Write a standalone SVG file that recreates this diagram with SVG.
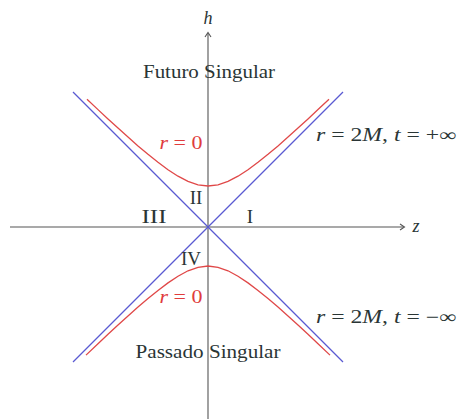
<svg xmlns="http://www.w3.org/2000/svg" width="459" height="419" viewBox="0 0 459 419">
<style>
.t{font-family:"Liberation Serif","DejaVu Serif",serif;font-size:18px;fill:#2a3535}
.g{font-size:19px}
.i{font-style:italic}
.r{fill:#e03c3c;font-size:19px}
.ax{stroke:#555;stroke-width:1.1;fill:none}
.bl{stroke:#5a5ad2;stroke-width:1.3;fill:none}
.rd{stroke:#e04848;stroke-width:1.3;fill:none}
</style>
<rect width="459" height="419" fill="#fff"/>
<g id="connectors">
<path class="ax" d="M10,227 H404"/>
<path class="ax" d="M400,224 L404.5,227 L400,230"/>
<path class="ax" d="M208,419 V33"/>
<path class="ax" d="M205,37 L208,32.5 L211,37"/>
<path class="bl" d="M73,92 L343,362"/>
<path class="bl" d="M343,92 L73,362"/>
<polyline class="rd" points="87,99.2 98,109.6 108,118.9 118,128.1 128,137.1 138,145.9 148,154.3 158,162.3 168,169.7 178,176.2 188,181.4 198,184.8 208,186 218,184.8 228,181.4 238,176.2 248,169.7 258,162.3 268,154.3 278,145.9 288,137.1 298,128.1 308,118.9 318,109.6 329,99.2"/>
<polyline class="rd" points="86,355.1 98,343.7 108,334.3 118,325.1 128,316 138,307.1 148,298.6 158,290.4 168,282.9 178,276.2 188,270.8 198,267.3 208,266 218,267.3 228,270.8 238,276.2 248,282.9 258,290.4 268,298.6 278,307.1 288,316 298,325.1 308,334.3 318,343.7 330,355.1"/>
</g>
<g id="axis-h"><text class="t i" x="208" y="24" text-anchor="middle">h</text></g>
<g id="axis-z"><text class="t i" x="416" y="232" text-anchor="middle">z</text></g>
<g id="futuro"><text class="t" x="209" y="78" text-anchor="middle" textLength="132" lengthAdjust="spacingAndGlyphs">Futuro Singular</text></g>
<g id="passado"><text class="t" x="208" y="358" text-anchor="middle" textLength="145" lengthAdjust="spacingAndGlyphs">Passado Singular</text></g>
<g id="r0-top"><text class="t r" x="181" y="149" text-anchor="middle" textLength="43" lengthAdjust="spacingAndGlyphs"><tspan class="i">r</tspan> = 0</text></g>
<g id="r0-bottom"><text class="t r" x="181" y="303" text-anchor="middle" textLength="43" lengthAdjust="spacingAndGlyphs"><tspan class="i">r</tspan> = 0</text></g>
<g id="region-II"><text class="t g" x="196" y="204" text-anchor="middle">II</text></g>
<g id="region-III"><text class="t g" x="154" y="223" text-anchor="middle" textLength="25" lengthAdjust="spacingAndGlyphs">III</text></g>
<g id="region-I"><text class="t g" x="250" y="223" text-anchor="middle">I</text></g>
<g id="region-IV"><text class="t g" x="191" y="265" text-anchor="middle">IV</text></g>
<g id="label-plus"><text class="t" x="316" y="141" textLength="140" lengthAdjust="spacingAndGlyphs"><tspan class="i">r</tspan> = 2<tspan class="i">M</tspan>, <tspan class="i">t</tspan> = +∞</text></g>
<g id="label-minus"><text class="t" x="316" y="323" textLength="140" lengthAdjust="spacingAndGlyphs"><tspan class="i">r</tspan> = 2<tspan class="i">M</tspan>, <tspan class="i">t</tspan> = −∞</text></g>
</svg>
